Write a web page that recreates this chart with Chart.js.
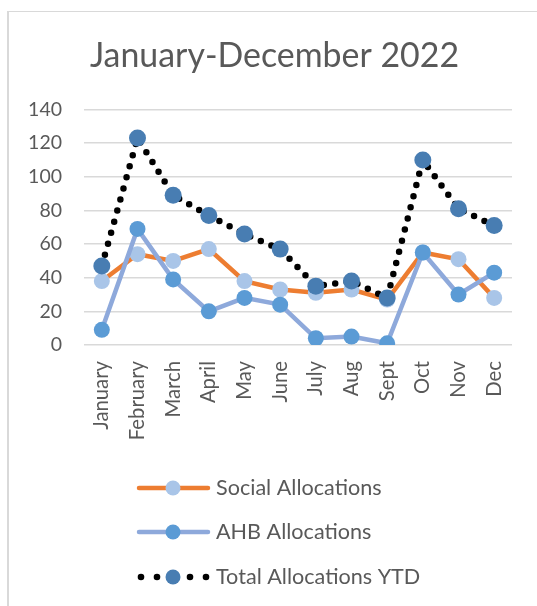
<!DOCTYPE html>
<html>
<head>
<meta charset="utf-8">
<script src="https://cdn.jsdelivr.net/npm/chart.js@4"></script>
<style>
  html, body { margin: 0; padding: 0; background: #fff; }
  #wrap { position: relative; width: 537px; height: 606px; overflow: hidden; }
  #frame { position: absolute; left: 7px; top: 11px; right: -5px; bottom: -5px;
           border-top: 1.5px solid #d9d9d9; border-left: 2px solid #d9d9d9; pointer-events: none; }
  canvas { position: absolute; left: 0; top: 0; }
</style>
</head>
<body>
<div id="wrap">
  <canvas id="c" width="537" height="606"></canvas>
  <div id="frame"></div>
</div>
<script>
const titleText = 'January-December 2022';
const months = ['January','February','March','April','May','June','July','Aug','Sept','Oct','Nov','Dec'];
const socialAllocations = [38, 54, 50, 57, 38, 33, 31, 33, 27, 55, 51, 28];
const ahbAllocations    = [9, 69, 39, 20, 28, 24, 4, 5, 1, 55, 30, 43];
const totalAllocations  = [47, 123, 89, 77, 66, 57, 35, 38, 28, 110, 81, 71];
const yTicks = [0, 20, 40, 60, 80, 100, 120, 140];

const TEXT = '#595959';
const FONT = 'Lato, "Open Sans", sans-serif';

// pick font sizes so text widths match the reference (which used a narrower font)
const mctx = document.createElement('canvas').getContext('2d');
function fitSize(text, target) {
  mctx.font = '100px ' + FONT;
  const w = mctx.measureText(text).width;
  return Math.round(100 * target / w * 10) / 10;
}
const titleSize = fitSize(titleText, 369);
const xTickSize = fitSize('January', 69);
const yTickSize = fitSize('140', 34);
const legendSize = fitSize('Social Allocations', 166);

const legendAndTitle = {
  id: 'legendAndTitle',
  afterDraw(chart) {
    const ctx = chart.ctx;
    ctx.save();
    ctx.fillStyle = TEXT;
    ctx.font = titleSize + 'px ' + FONT;
    ctx.textAlign = 'center';
    ctx.textBaseline = 'alphabetic';
    ctx.fillText(titleText, 274.5, 67);

    const rows = [488, 532, 577];
    chart.data.datasets.forEach((ds, i) => {
      const y = rows[i];
      if (ds.legendDots) {
        ctx.fillStyle = '#000';
        [141, 157, 190, 206].forEach(x => {
          ctx.beginPath(); ctx.arc(x, y, 3.3, 0, Math.PI * 2); ctx.fill();
        });
      } else {
        ctx.strokeStyle = ds.borderColor;
        ctx.lineWidth = ds.borderWidth;
        ctx.lineCap = 'round';
        ctx.beginPath(); ctx.moveTo(139, y); ctx.lineTo(208, y); ctx.stroke();
      }
      ctx.fillStyle = ds.pointBackgroundColor;
      ctx.beginPath(); ctx.arc(173, y, 7.5, 0, Math.PI * 2); ctx.fill();
      ctx.fillStyle = TEXT;
      ctx.font = legendSize + 'px ' + FONT;
      ctx.textAlign = 'left';
      ctx.textBaseline = 'alphabetic';
      ctx.fillText(ds.label, 216, y + 7);
    });
    ctx.restore();
  }
};

new Chart(document.getElementById('c'), {
  type: 'line',
  data: {
    labels: months,
    datasets: [
      {
        label: 'Social Allocations',
        data: socialAllocations,
        borderColor: '#ED7D31',
        borderWidth: 4.5,
        pointBackgroundColor: '#A9C5E8',
        pointBorderColor: '#A9C5E8',
        pointBorderWidth: 0,
        pointRadius: 8,
        tension: 0,
        order: 3
      },
      {
        label: 'AHB Allocations',
        data: ahbAllocations,
        borderColor: '#8EA9DB',
        borderWidth: 4.5,
        pointBackgroundColor: '#5B9BD5',
        pointBorderColor: '#5B9BD5',
        pointBorderWidth: 0,
        pointRadius: 8,
        tension: 0,
        order: 2
      },
      {
        label: 'Total Allocations YTD',
        data: totalAllocations,
        borderColor: '#000000',
        borderWidth: 6.5,
        borderDash: [0, 11.5],
        borderCapStyle: 'round',
        pointBackgroundColor: '#487DB2',
        pointBorderColor: '#487DB2',
        pointBorderWidth: 0,
        pointRadius: 8.5,
        tension: 0,
        order: 1,
        legendDots: true
      }
    ]
  },
  options: {
    responsive: false,
    animation: false,
    layout: { padding: { left: 10, right: 25, top: 109.5, bottom: 151 } },
    plugins: {
      legend: { display: false },
      title: { display: false },
      tooltip: { enabled: false }
    },
    scales: {
      x: {
        offset: true,
        grid: { display: false, drawTicks: false },
        border: { display: false },
        ticks: {
          autoSkip: false, minRotation: 90, maxRotation: 90, padding: 16,
          color: TEXT, font: { family: FONT, size: xTickSize }
        },
        afterFit(scale) { scale.height = 110; }
      },
      y: {
        min: 0, max: 140,
        afterBuildTicks(scale) { scale.ticks = yTicks.map(v => ({ value: v })); },
        grid: { color: '#d9d9d9', lineWidth: 1.5, drawTicks: false },
        border: { display: false },
        ticks: { padding: 22, color: TEXT, font: { family: FONT, size: yTickSize } },
        afterFit(scale) { scale.width = 74; }
      }
    }
  },
  plugins: [legendAndTitle]
});
</script>
</body>
</html>
